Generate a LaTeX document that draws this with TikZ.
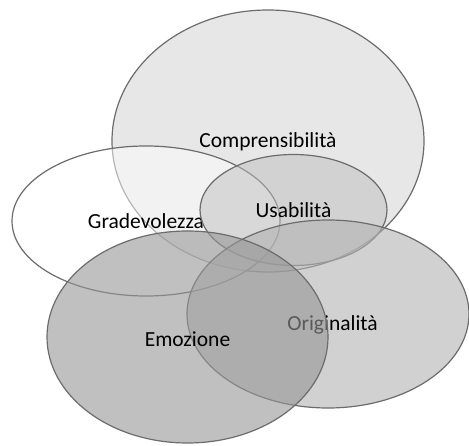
\documentclass[tikz,border=0pt]{standalone}
\usepackage{fontspec}
\setmainfont{Carlito}
\usepackage{tikz}
\usetikzlibrary{shapes.geometric}
\usepackage{xcolor}
\definecolor{ringGray}{RGB}{108, 108, 108}
\definecolor{fillCompr}{RGB}{225, 225, 225}
\definecolor{fillUsab}{RGB}{190, 190, 190}
\definecolor{fillOrig}{RGB}{178, 178, 178}
\definecolor{fillEmo}{RGB}{150, 150, 150}

\begin{document}
\begin{tikzpicture}[
    x=1pt, y=-1pt,
    every node/.style={font=\fontsize{21.5}{25}\selectfont},
    ring/.style={
        ellipse, draw=ringGray, line width=1.2pt, inner sep=0pt, outer sep=0pt
    },
    tag/.style={text=black, inner sep=0pt}
]
\useasboundingbox (0,0) rectangle (469,446);

% --- Top: Comprensibilita ------------------------------------------------
\node[ring, fill=fillCompr, fill opacity=0.8, minimum width=312pt, minimum height=262pt] (compr) at (268,141) {};
\node[tag] (comprtext) at ([shift={(0,1)}]compr.center) {Comprensibilità};

% --- Left: Gradevolezza (white, see-through) ----------------------------
\node[ring, fill=white, fill opacity=0.5, minimum width=268pt, minimum height=150pt] (grad) at (146,221) {};
\node[tag] (gradtext) at (grad.center) {Gradevolezza};

% --- Middle: Usabilita ---------------------------------------------------
\node[ring, fill=fillUsab, fill opacity=0.5, minimum width=187pt, minimum height=111pt] (usab) at (293.5,210) {};
\node[tag] (usabtext) at (usab.center) {Usabilità};

% --- Bottom right: Originalita -------------------------------------------
\node[ring, fill=fillOrig, fill opacity=0.6, minimum width=282pt, minimum height=188pt] (orig) at (328,314) {};
\node[tag] (origtext) at ([shift={(4.5,11)}]orig.center) {Originalità};

% --- Bottom left: Emozione (drawn last, over Originalita) ----------------
\node[ring, fill=fillEmo, fill opacity=0.6, minimum width=281pt, minimum height=212pt] (emo) at (187.5,337) {};
\node[tag] (emotext) at ([shift={(0,2)}]emo.center) {Emozione};

\end{tikzpicture}
\end{document}
